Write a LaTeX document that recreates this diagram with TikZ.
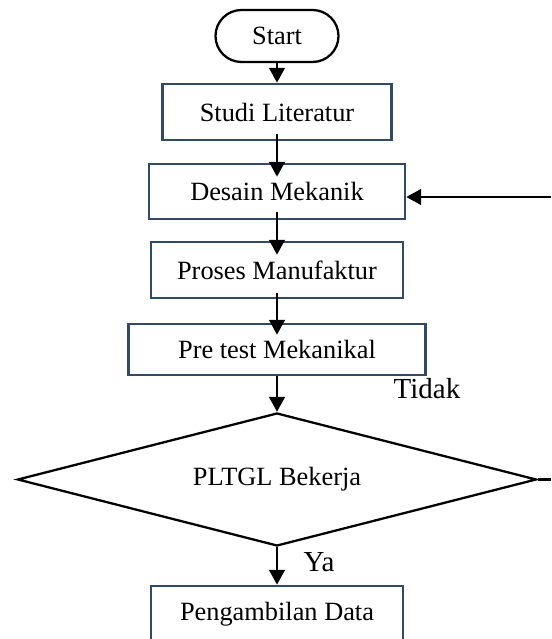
\documentclass[tikz,border=0pt]{standalone}
\usepackage{fontspec}
\setmainfont{Liberation Serif}
\usepackage{xcolor}
\usetikzlibrary{arrows.meta,shapes.geometric}
\definecolor{boxblue}{HTML}{2F4A6B}

\begin{document}
\begin{tikzpicture}[x=1cm,y=1cm,
    stepbox/.style={draw=boxblue,line width=1.4pt,fill=white,inner sep=0pt,font=\fontsize{15}{18}\selectfont},
    flow/.style={line width=1.7pt,-{Triangle[length=0.3cm,width=0.31cm]}},
    tag/.style={font=\fontsize{16.5}{20}\selectfont}]
    \useasboundingbox (0,0) rectangle (11.02,12.78);
    \node[draw,line width=1.3pt,rounded corners=0.52cm,minimum width=2.46cm,minimum height=1.04cm,inner sep=0pt,font=\fontsize{15}{18}\selectfont] (start) at (5.54,12.06) {Start};
    \node[stepbox,minimum width=4.58cm,minimum height=1.12cm] (studi) at (5.54,10.54) {Studi Literatur};
    \node[stepbox,minimum width=5.12cm,minimum height=1.10cm] (desain) at (5.54,8.95) {Desain Mekanik};
    \node[stepbox,minimum width=5.04cm,minimum height=1.12cm] (proses) at (5.54,7.38) {Proses Manufaktur};
    \node[stepbox,minimum width=5.94cm,minimum height=1.02cm] (pretest) at (5.54,5.79) {Pre test Mekanikal};
    \node[draw,diamond,aspect=3.9,line width=1.3pt,minimum width=10.38cm,minimum height=2.66cm,inner sep=0pt,font=\fontsize{15}{18}\selectfont] (cek) at (5.54,3.19) {PLTGL Bekerja};
    \node[stepbox,minimum width=5.04cm,minimum height=1.12cm] (data) at (5.54,0.50) {Pengambilan Data};
    \node[tag] (tidak) at (8.54,5.00) {Tidak};
    \node[tag] (ya) at (6.38,1.54) {Ya};
    \coordinate (kanan) at (11.02,8.84);
    % main flow
    \draw[flow] (start.south) -- (studi.north);
    \draw[flow,shorten <=-0.14cm,shorten >=-0.28cm] (studi.south) -- (desain.north);
    \draw[flow,shorten <=-0.16cm,shorten >=-0.28cm] (desain.south) -- (proses.north);
    \draw[flow,shorten <=-0.12cm,shorten >=-0.24cm] (proses.south) -- (pretest.north);
    \draw[flow] (pretest.south) -- (cek.north);
    \draw[flow] (cek.south) -- (data.north);
    % loop back
    \draw[line width=1.7pt] (cek.east) -- (cek.east -| kanan);
    \draw[flow] (kanan) -- (kanan -| desain.east);
  \end{tikzpicture}
\end{document}
